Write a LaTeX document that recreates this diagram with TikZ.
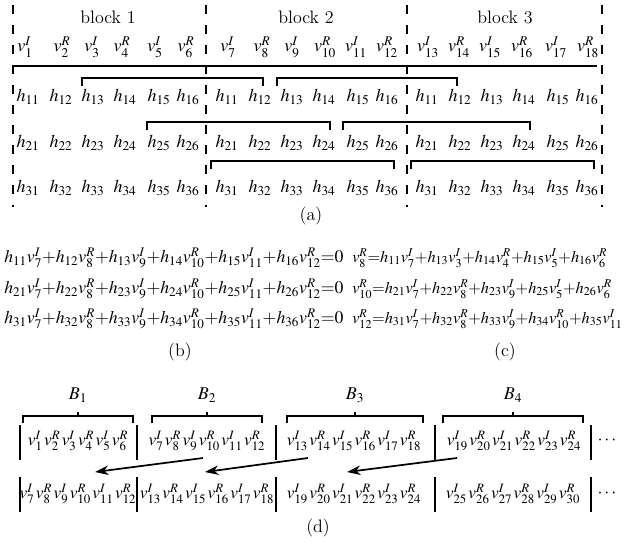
\documentclass[tikz,border=0pt]{standalone}
\usepackage{mathptmx}
\usepackage{tikz}
\usetikzlibrary{arrows.meta, positioning}
\usetikzlibrary{calc}

\tikzset{
  txt/.style={font=\fontsize{13.5}{16}\selectfont, inner sep=0pt},
  eqn/.style={font=\fontsize{13.3}{15}\selectfont, inner sep=0pt, anchor=west},
  eqnr/.style={font=\fontsize{12.2}{15}\selectfont, inner sep=0pt, anchor=west},
  row/.style={font=\fontsize{13}{15}\selectfont, inner sep=0pt},
  blockline/.style={line width=1.1pt, dash pattern=on 7pt off 8pt},
  brk/.style={line width=1.1pt},
  bar/.style={line width=1.3pt},
  moveArrow/.style={line width=1.3pt, -{Stealth[length=10pt,width=7pt,inset=3pt]}}
}
\newcommand{\vs}{\mkern1.5mu}

\begin{document}
\begin{tikzpicture}[x=0.75pt,y=-0.75pt]
            \useasboundingbox (0,0) rectangle (624,543);
            % (a)
            \foreach \x [count=\i] in {13,206,407,602} {
              \coordinate (top\i) at (\x,5);
              \coordinate (bot\i) at (\x,207);
              \draw[blockline] (top\i) -- (bot\i);
            }
            \node[txt](blk1) at (108,17) {block 1};
            \node[txt](blk2) at (306,17) {block 2};
            \node[txt](blk3) at (505,17) {block 3};
            \foreach \x/\k/\t in {25/1/I,62/2/R,92/3/I,122/4/R,155/5/I,186/6/R,
                228/7/I,262/8/R,292/9/I,325/10/R,356/11/I,387/12/R,
                428/13/I,459/14/R,490/15/I,522/16/R,556/17/I,588/18/R}
              \node[txt](v\k) at (\x,47) {$v_{\k}^{\t}$};
            \draw[brk] (13,66) -- (597,66);
            \foreach \b/\l in {1/13,2/212,3/412}
              \foreach \j/\d in {1/15,2/48,3/80,4/112,5/146,6/175} {
                \node[txt](h1\j-\b) at (\l+\d,97) {$h_{1\j}$};
                \node[txt](h2\j-\b) at (\l+\d,143) {$h_{2\j}$};
                \node[txt](h3\j-\b) at (\l+\d,188) {$h_{3\j}$};
              }
            \foreach \y/\a/\b in {78/82/263,78/277/457,122/147/330,122/343/530,161/211/394,161/411/594}
              \draw[brk] (\a,\y+8) |- (\b,\y) -- (\b,\y+8);
            \node[txt](capa) at (311,216) {(a)};
            % (b) and (c)
            \foreach \i/\y in {1/258,2/289,3/319}
              \node[eqn](eqb\i) at (4,\y)
                {$h_{\i1}v_7^I{+}h_{\i2}v_8^R{+}h_{\i3}v_9^I{+}h_{\i4}v_{10}^R{+}h_{\i5}v_{11}^I{+}h_{\i6}v_{12}^R{=}0$};
            \node[eqnr](eqc1) at (352,258)
              {$v_8^R{=}h_{11}v_7^I{+}h_{13}v_3^I{+}h_{14}v_4^R{+}h_{15}v_5^I{+}h_{16}v_6^R$};
            \node[eqnr](eqc2) at (352,289)
              {$v_{10}^R{=}h_{21}v_7^I{+}h_{22}v_8^R{+}h_{23}v_9^I{+}h_{25}v_5^I{+}h_{26}v_6^R$};
            \node[eqnr](eqc3) at (352,319)
              {$v_{12}^R{=}h_{31}v_7^I{+}h_{32}v_8^R{+}h_{33}v_9^I{+}h_{34}v_{10}^R{+}h_{35}v_{11}^I$};
            \node[txt](capb) at (180,352) {(b)};
            \node[txt](capc) at (505,352) {(c)};
            % (d)
            \foreach \k/\x/\a/\b in {1/78/23/133,2/207/152/262,3/355/287/423,4/513/443/583} {
              \node[txt](B\k) at (\x,395) {$B_{\k}$};
              \draw[brk] (\a,423) |- (\b,416) -- (\b,423);
              \draw[brk] (\x,416) -- (\x,412);
            }
            \foreach \x in {20,137,276,435,591} {
              \draw[bar] (\x,425) -- (\x,460);
              \draw[bar] (\x,477) -- (\x,512);
            }
            \node[row](r1) at (78,441) {$v_1^I\vs v_2^R\vs v_3^I\vs v_4^R\vs v_5^I\vs v_6^R$};
            \node[row](r2) at (207,441) {$v_7^I\vs v_8^R\vs v_9^I\vs v_{10}^R\vs v_{11}^I\vs v_{12}^R$};
            \node[row](r3) at (354,441) {$v_{13}^I\vs v_{14}^R\vs v_{15}^I\vs v_{16}^R\vs v_{17}^I\vs v_{18}^R$};
            \node[row](r4) at (514,441) {$v_{19}^I\vs v_{20}^R\vs v_{21}^I\vs v_{22}^R\vs v_{23}^I\vs v_{24}^R$};
            \node[row](s1) at (78,494) {$v_7^I\vs v_8^R\vs v_9^I\vs v_{10}^R\vs v_{11}^I\vs v_{12}^R$};
            \node[row](s2) at (207,494) {$v_{13}^I\vs v_{14}^R\vs v_{15}^I\vs v_{16}^R\vs v_{17}^I\vs v_{18}^R$};
            \node[row](s3) at (354,494) {$v_{19}^I\vs v_{20}^R\vs v_{21}^I\vs v_{22}^R\vs v_{23}^I\vs v_{24}^R$};
            \node[row](s4) at (513,494) {$v_{25}^I\vs v_{26}^R\vs v_{27}^I\vs v_{28}^R\vs v_{29}^I\vs v_{30}^R$};
            \node[txt](dots1) at (607,441) {$\cdots$};
            \node[txt](dots2) at (607,494) {$\cdots$};
            \foreach \i/\a/\b in {1/203/95,2/308/205,3/457/347} {
              \coordinate (from\i) at (\a,458);
              \coordinate (to\i) at (\b,472);
              \draw[moveArrow] (from\i) -- (to\i);
            }
            \node[txt](capd) at (318,528) {(d)};
        \end{tikzpicture}
\end{document}
